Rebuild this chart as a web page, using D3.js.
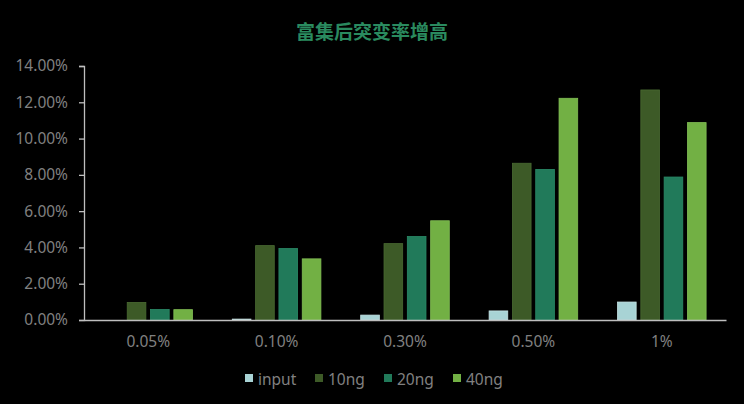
<!DOCTYPE html>
<html><head><meta charset="utf-8">
<script src="https://cdn.jsdelivr.net/npm/d3@7"></script>
<style>body{margin:0;background:#000;}svg{display:block;}</style>
</head><body><div id="chart"></div>
<script>
const categories = ["0.05%", "0.10%", "0.30%", "0.50%", "1%"];
const seriesNames = ["input", "10ng", "20ng", "40ng"];
const inputVals = [0.0000, 0.0005, 0.0027, 0.0050, 0.0099];
const ng10Vals  = [0.0097, 0.0410, 0.0421, 0.0864, 0.1268];
const ng20Vals  = [0.0058, 0.0394, 0.0460, 0.0830, 0.0788];
const ng40Vals  = [0.0057, 0.0337, 0.0547, 0.1222, 0.1088];
const yTicks = [0, 0.02, 0.04, 0.06, 0.08, 0.10, 0.12, 0.14];
const colors = ["#a8d3d5", "#3d5a27", "#217a5a", "#72b044"];
const strokes = ["#c4e2e3", "#4a6a32", "#2b8a68", "#82be55"];

const W = 744, H = 404;
const svg = d3.select("#chart").append("svg").attr("width", W).attr("height", H)
  .style("background", "#000");

const x0 = d3.scaleBand().domain(categories).range([84, 726]).paddingInner(0.31).paddingOuter(0.155);
const x1 = d3.scaleBand().domain(seriesNames).range([0, x0.bandwidth()]).paddingInner(0.2);
const y = d3.scaleLinear().domain([0, 0.14]).range([320, 66]);

const font = "'Noto Sans', 'DejaVu Sans', sans-serif";

svg.append("text").attr("x", 372).attr("y", 39).attr("text-anchor", "middle")
  .attr("fill", "#2a8a5f").style("font-family", "'Noto Sans CJK SC', sans-serif")
  .style("font-size", "19px").style("font-weight", "bold").text("富集后突变率增高");

const yAxis = svg.append("g").attr("transform", "translate(84,0)")
  .call(d3.axisLeft(y).tickValues(yTicks).tickFormat(d3.format(".2%")).tickSizeOuter(0).tickSize(5).tickPadding(11));
yAxis.select(".domain").attr("stroke", "#bfbfbf").attr("stroke-width", 1.3);
yAxis.selectAll(".tick line").attr("stroke", "#bfbfbf").attr("stroke-width", 1.3);
yAxis.selectAll(".tick text").attr("fill", "#808080").style("font-family", font).style("font-size", "15.5px");

const data = [inputVals, ng10Vals, ng20Vals, ng40Vals];
const groups = svg.append("g").selectAll("g").data(categories).join("g")
  .attr("transform", d => `translate(${x0(d)},0)`);
groups.selectAll("rect").data((c, i) => seriesNames.map((s, j) => ({s, j, v: data[j][i]})))
  .join("rect")
  .attr("x", d => x1(d.s)).attr("width", x1.bandwidth())
  .attr("y", d => y(d.v)).attr("height", d => y(0) - y(d.v))
  .attr("fill", d => colors[d.j]).attr("stroke", d => strokes[d.j]).attr("stroke-width", d => d.v > 0 ? 0.8 : 0);

const xAxis = svg.append("g").attr("transform", "translate(0,320)")
  .call(d3.axisBottom(x0).tickSize(0).tickPadding(16));
xAxis.select(".domain").attr("stroke", "#bfbfbf").attr("stroke-width", 1.6);
xAxis.selectAll(".tick text").attr("fill", "#808080").style("font-family", font).style("font-size", "15.5px");

const legendX = [245, 315, 384, 453];
const lg = svg.append("g").selectAll("g").data(seriesNames).join("g")
  .attr("transform", (d, i) => `translate(${legendX[i]},374)`);
lg.append("rect").attr("width", 8).attr("height", 8).attr("fill", (d, i) => colors[i]);
lg.append("text").attr("x", 13).attr("y", 11).attr("fill", "#808080")
  .style("font-family", font).style("font-size", "15.5px").text(d => d);
</script></body></html>
